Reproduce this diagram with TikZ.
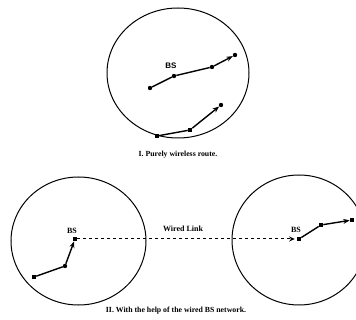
\documentclass[tikz,border=0pt]{standalone}
\usepackage{fontspec}
\setmainfont{Liberation Serif}
\newfontfamily\sanslab{Liberation Sans}
\usetikzlibrary{arrows.meta}
\begin{document}
\begin{tikzpicture}[x=1pt,y=-1pt,
  cell/.style={draw, line width=1pt},
  dot/.style={circle, fill, inner sep=0pt, minimum size=4.4pt},
  sq/.style={rectangle, fill, inner sep=0pt, minimum size=4.2pt},
  route/.style={line width=1.4pt},
  tip/.style={-{Stealth[length=6.5pt,width=5pt]}},
  lab/.style={font=\bfseries\fontsize{8}{9}\selectfont, inner sep=0pt},
  captext/.style={font=\bfseries\fontsize{7.8}{9}\selectfont, inner sep=0pt}]
\useasboundingbox (0,0) rectangle (356,320);
\begin{scope}
\clip (0,0) rectangle (356,320);
% cells
\draw[cell] (178,73) ellipse [x radius=71pt, y radius=65pt];
\draw[cell] (78.5,241) ellipse [x radius=67.5pt, y radius=64pt];
\draw[cell] (299,240) ellipse [x radius=67pt, y radius=65pt];
% top route via BS
\node[dot] (a1) at (150,88) {};
\node[dot] (a2) at (174,76) {};
\node[dot] (a3) at (212,67) {};
\node[dot] (a4) at (235,55) {};
\draw[route] (a1) -- (a2) -- (a3);
\draw[route,tip] (a3) -- (a4);
\node[lab, font=\sanslab\bfseries\fontsize{8}{9}\selectfont] (bsa) at (171,66) {BS};
% lower purely wireless route
\node[sq] (b1) at (157,136) {};
\node[sq] (b2) at (190,130) {};
\node[dot] (b3) at (221,105) {};
\draw[route] (b1) -- (b2);
\draw[route,tip] (b2) -- (b3);
% left cell route
\node[sq] (c1) at (34,277) {};
\node[dot] (c2) at (65,266) {};
\node[sq] (c3) at (75,239) {};
\draw[route] (c1) -- (c2);
\draw[route,tip] (c2) -- (c3);
\node[lab] (bsc) at (72,231) {BS};
% right cell route
\node[sq] (d1) at (299,239) {};
\node[sq] (d2) at (321,225) {};
\node[sq] (d3) at (352,220) {};
\draw[route] (d1) -- (d2);
\draw[route,tip] (d2) -- (d3);
\node[lab] (bsd) at (296,230) {BS};
% wired link
\draw[line width=1pt, dashed, -{Stealth[length=5.5pt,width=5pt]}, shorten >=2pt] (c3) -- (d1);
\node[lab] (wl) at (183,229) {Wired Link};
\end{scope}
% captions
\node[captext] (cap1) at (178,155) {I. Purely wireless route.};
\node[captext] (cap2) at (176,311) {II. With the help of the wired BS network.};
\end{tikzpicture}
\end{document}
